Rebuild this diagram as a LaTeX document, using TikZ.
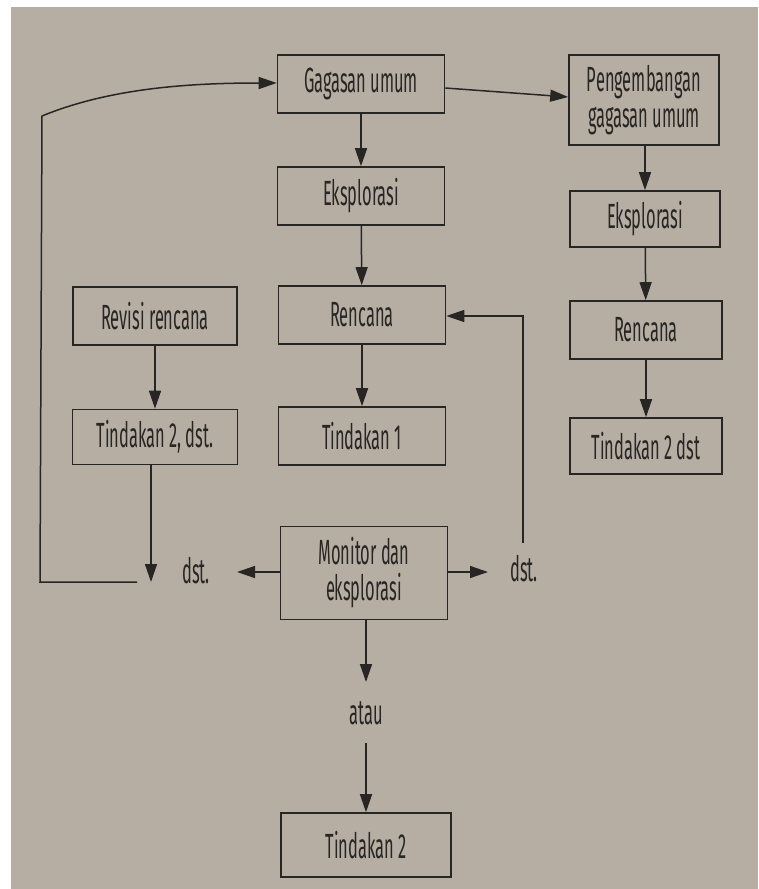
\documentclass[tikz,border=0pt]{standalone}
\usepackage{fontspec}
\setmainfont{Fira Sans}[FakeStretch=0.47]
\usetikzlibrary{arrows.meta}
\definecolor{paper}{RGB}{182,174,163}
\definecolor{ink}{RGB}{40,38,36}
\tikzset{
  box/.style={draw=ink, line width=1.6pt, minimum width=167pt, minimum height=58pt,
    align=center, inner sep=2pt, text=ink, font=\fontsize{35}{36}\selectfont},
  tag/.style={text=ink, inner sep=1pt, font=\fontsize{35}{36}\selectfont},
  flow/.style={draw=ink, line width=1.5pt, -{Triangle[length=18pt,width=12pt]}},
}
\begin{document}
\begin{tikzpicture}[x=1pt,y=-1pt]
  % page
  \fill[white] (0,0) rectangle (758,889);
  \fill[paper] (11,7) rectangle (758,889);
  \useasboundingbox (0,0) rectangle (758,889);

  % middle column
  \node[box] (gag) at (361,84) {Gagasan umum};
  \node[box] (eks) at (361,196) {Eksplorasi};
  \node[box] (ren) at (362,315) {Rencana};
  \node[box] (ti1) at (362,436) {Tindakan 1};
  \node[box, minimum height=93pt] (mon) at (364,573) {Monitor dan\\eksplorasi};
  \node[tag] (atau) at (366,713) {atau};
  \coordinate (atin) at (366,682);
  \coordinate (atout) at (366,743);
  \node[box, minimum width=170pt, minimum height=64pt] (ti2) at (366,845) {Tindakan 2};

  % left column
  \node[box, minimum width=164pt] (rev) at (155,316) {Revisi rencana};
  \node[box, minimum width=165pt, minimum height=55pt] (tid) at (155,437) {Tindakan 2, dst.};
  \node[tag] (dstl) at (196,571) {dst.};
  \coordinate (lend) at (151,582);

  % right column
  \node[box, minimum width=150pt, minimum height=90pt] (pen) at (644,100) {Pengembangan\\gagasan umum};
  \node[box, minimum width=150pt, minimum height=56pt] (eksr) at (645,219) {Eksplorasi};
  \node[box, minimum width=152pt, minimum height=58pt] (renr) at (646,330) {Rencana};
  \node[box, minimum width=152pt, minimum height=56pt] (tidr) at (646,446) {Tindakan 2 dst};
  \node[tag] (dstr) at (524,569) {dst.};

  % flows down the middle
  \path[flow] (gag) -- (eks);
  \path[flow] (eks) -- (ren);
  \path[flow] (ren) -- (ti1);
  \path[flow] (mon.south -| atin) -- (atin);
  \path[flow] (atout) -- (ti2.north -| atout);

  % flows down the left
  \path[flow] (rev) -- (tid);
  \path[flow] (tid.south -| lend) -- (lend);

  % flows down the right
  \path[flow] (gag.east |- 0,88) -- (pen.west |- 0,97);
  \path[flow] (pen.south -| 645,0) -- (eksr.north -| 645,0);
  \path[flow] (eksr) -- (renr);
  \path[flow] (renr) -- (tidr);

  % monitor branches
  \path[flow] (mon.west |- 0,572) -- (237,572);
  \path[flow] (mon.east |- 0,572) -- (488,572);

  % feedback to Rencana
  \path[flow] (523,543) -- (523,316) -- (ren.east |- 0,316);

  % feedback loop on the left back to Gagasan umum
  \path[flow] (137,582) -- (40,582) -- (42,116)
    .. controls (110,88) and (190,83) .. (gag.west |- 0,83);
\end{tikzpicture}
\end{document}
